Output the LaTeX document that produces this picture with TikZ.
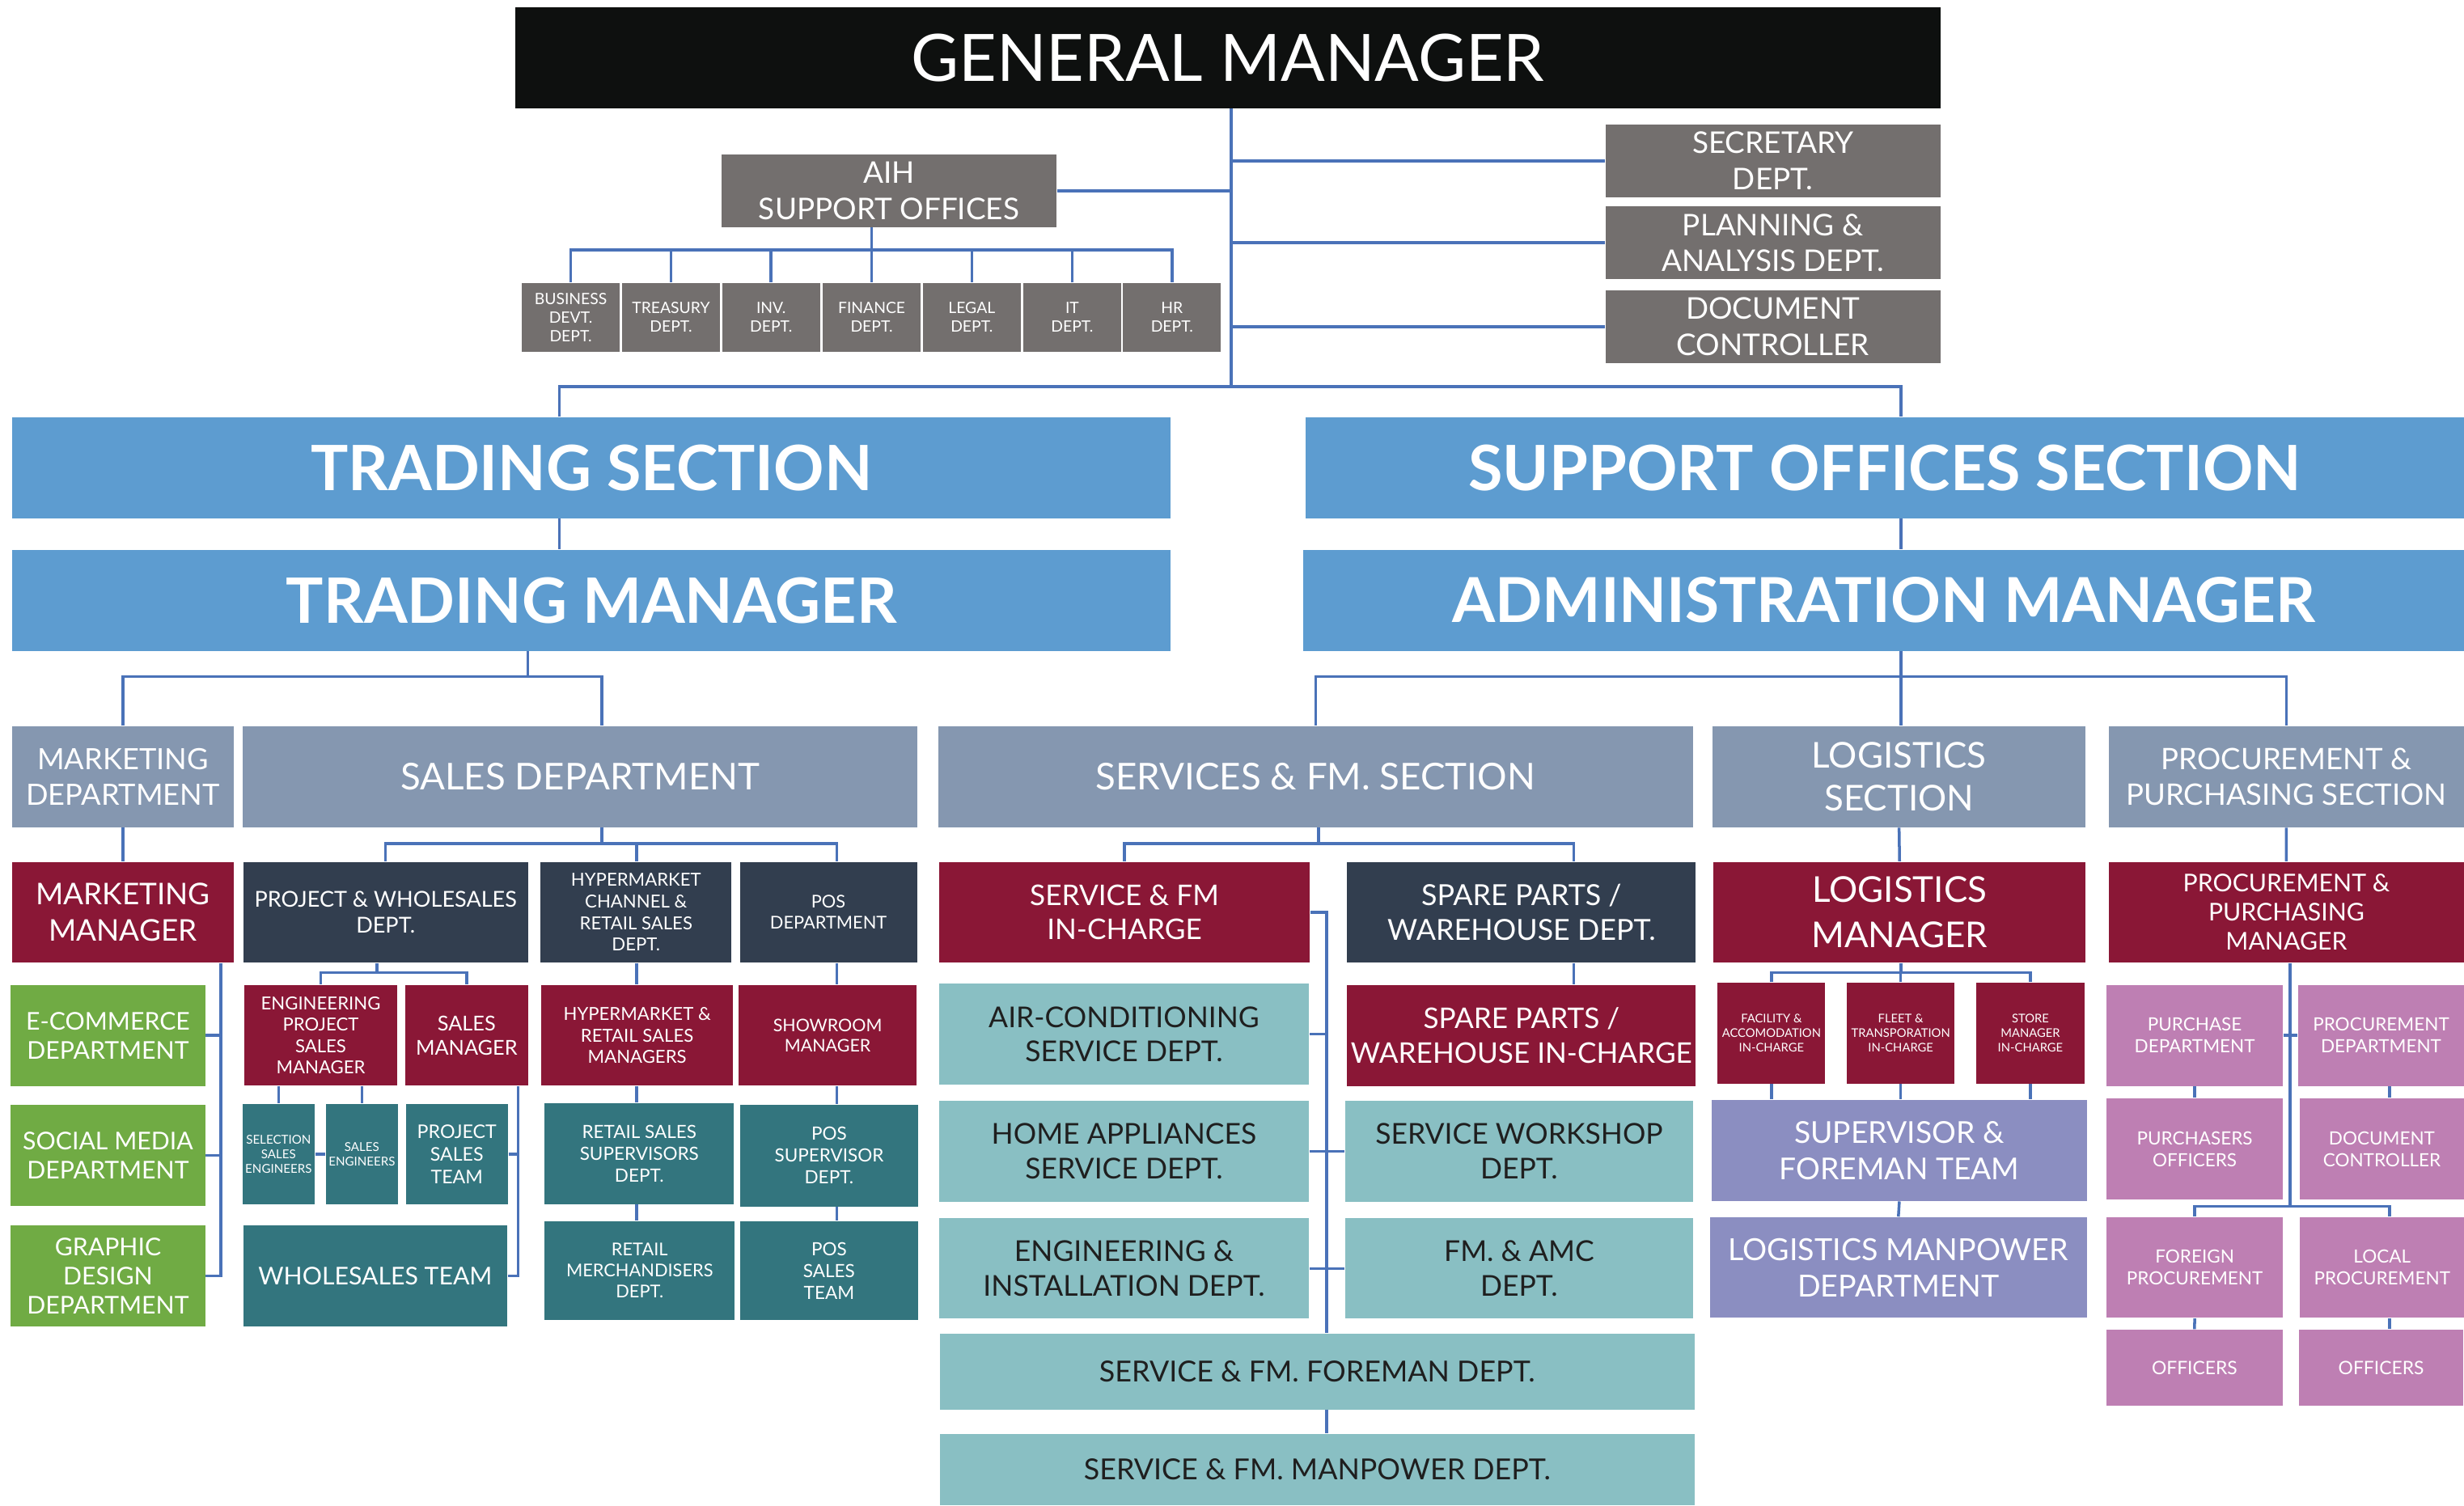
\documentclass[tikz,border=0pt]{standalone}
\usepackage{fontspec}
\setmainfont{Lato}
\usepackage{tikz}
\usepackage{xcolor}

\newcommand{\pxu}{0.019426cm}
\newcommand{\sz}[1]{\fontsize{#1}{\fpeval{1.2*#1}}\selectfont}

\definecolor{gmblack}{HTML}{0E100F}
\definecolor{aihgrey}{HTML}{736F6E}
\definecolor{secblue}{HTML}{5D9CD0}
\definecolor{slate}{HTML}{8597B0}
\definecolor{navy}{HTML}{323E4F}
\definecolor{maroon}{HTML}{8A1736}
\definecolor{deepteal}{HTML}{33757E}
\definecolor{paleteal}{HTML}{89BFC3}
\definecolor{mktgreen}{HTML}{70AB44}
\definecolor{lavender}{HTML}{8B8EC1}
\definecolor{mauve}{HTML}{BE7FB3}
\definecolor{linkblue}{HTML}{4A72B8}
\definecolor{darktext}{HTML}{1F1F1F}

\tikzset{
  orgbox/.style={rectangle, inner sep=1pt, align=center, text=white},
  wh/.style 2 args={minimum width=#1*\pxu, minimum height=#2*\pxu},
  fs/.style={font=\sz{#1}},
  bigfs/.style={font=\sz{#1}\bfseries},
  gmbox/.style={orgbox, fill=gmblack},
  greybox/.style={orgbox, fill=aihgrey},
  secbox/.style={orgbox, fill=secblue},
  deptbox/.style={orgbox, fill=slate},
  navybox/.style={orgbox, fill=navy},
  mgrbox/.style={orgbox, fill=maroon},
  tealbox/.style={orgbox, fill=deepteal},
  palebox/.style={orgbox, fill=paleteal, text=darktext},
  greenbox/.style={orgbox, fill=mktgreen},
  lavbox/.style={orgbox, fill=lavender},
  pinkbox/.style={orgbox, fill=mauve},
  link/.style={draw=linkblue, line width=1pt}
}

\begin{document}
\begin{tikzpicture}[x=\pxu, y=-\pxu]
    \useasboundingbox (0,0) rectangle (1568,958);

    % Top level
    \node[gmbox, wh={906.9}{64.2}, fs=23] (gm) at (781.25,36.7) {GENERAL MANAGER};
    \node[greybox, wh={213.1}{46.2}, fs=10.5] (aih) at (565.75,121.4) {AIH\\SUPPORT OFFICES};
    \node[greybox, wh={213}{46.1}, fs=10.5] (sec) at (1128.2,102.35) {SECRETARY\\DEPT.};
    \node[greybox, wh={213}{46.1}, fs=10.5] (pla) at (1128.2,154.4) {PLANNING \&\\ANALYSIS DEPT.};
    \node[greybox, wh={213}{46.1}, fs=10.5] (doc) at (1128.2,207.9) {DOCUMENT\\CONTROLLER};

    % AIH support offices
    \node[greybox, wh={62.3}{43.6}, fs=5.5] (bus) at (363.2,202) {BUSINESS\\DEVT.\\DEPT.};
    \node[greybox, wh={62.3}{43.6}, fs=5.5] (tre) at (427.0,202) {TREASURY\\DEPT.};
    \node[greybox, wh={62.3}{43.6}, fs=5.5] (inv) at (490.7,202) {INV.\\DEPT.};
    \node[greybox, wh={62.3}{43.6}, fs=5.5] (fin) at (554.7,202) {FINANCE\\DEPT.};
    \node[greybox, wh={62.3}{43.6}, fs=5.5] (leg) at (618.4,202) {LEGAL\\DEPT.};
    \node[greybox, wh={62.3}{43.6}, fs=5.5] (it) at (682.3,202) {IT\\DEPT.};
    \node[greybox, wh={62.3}{43.6}, fs=5.5] (hr) at (745.8,202) {HR\\DEPT.};

    % Sections
    \node[secbox, wh={737.1}{64.2}, bigfs=22] (trs) at (376.45,297.7) {TRADING SECTION};
    \node[secbox, wh={737.1}{64.2}, bigfs=22] (tm) at (376.45,382.1) {TRADING MANAGER};
    \node[secbox, wh={737}{64.2}, bigfs=22] (sos) at (1199.5,297.7) {SUPPORT OFFICES SECTION};
    \node[secbox, wh={738.6}{64.2}, bigfs=21.8] (am) at (1198.7,382.1) {ADMINISTRATION MANAGER};

    % Departments
    \node[deptbox, wh={141.2}{64.1}, fs=10.3] (mkd) at (78.2,494.35) {MARKETING\\DEPARTMENT};
    \node[deptbox, wh={429.6}{64.1}, fs=13] (sd) at (369.2,494.35) {SALES DEPARTMENT};
    \node[deptbox, wh={480.3}{64.1}, fs=13] (sfs) at (837.15,494.35) {SERVICES \& FM. SECTION};
    \node[deptbox, wh={237}{64.1}, fs=12.5] (ls) at (1208.5,494.35) {LOGISTICS\\SECTION};
    \node[deptbox, wh={226.2}{64.1}, fs=10.4] (pps) at (1454.9,494.35) {PROCUREMENT \&\\PURCHASING SECTION};

    % Managers row
    \node[mgrbox, wh={141.2}{64.2}, fs=10.5] (mkm) at (78.2,580.6) {MARKETING\\MANAGER};
    \node[navybox, wh={181.2}{64.2}, fs=7.7] (pw) at (245.4,580.6) {PROJECT \& WHOLESALES\\DEPT.};
    \node[navybox, wh={121.5}{64.2}, fs=6.3] (hc) at (404.75,580.6) {HYPERMARKET\\CHANNEL \&\\RETAIL SALES\\DEPT.};
    \node[navybox, wh={112.7}{64.2}, fs=6.2] (posd) at (527.15,580.6) {POS\\DEPARTMENT};
    \node[mgrbox, wh={236.1}{64.2}, fs=10] (sfic) at (715.55,580.6) {SERVICE \& FM\\IN-CHARGE};
    \node[navybox, wh={222}{64.2}, fs=10.2] (spd) at (968.2,580.6) {SPARE PARTS /\\WAREHOUSE DEPT.};
    \node[mgrbox, wh={237}{64.2}, font={\fontsize{12.5}{16}\selectfont}] (lm) at (1208.8,580.6) {LOGISTICS\\MANAGER};
    \node[mgrbox, wh={226.1}{64.2}, fs=8.6] (ppm) at (1454.95,580.6) {PROCUREMENT \&\\PURCHASING\\MANAGER};

    % Second row
    \node[greenbox, wh={123.8}{64.2}, fs=8.6] (ec) at (68.7,659) {E-COMMERCE\\DEPARTMENT};
    \node[mgrbox, wh={97}{64}, fs=6.3] (epsm) at (204.1,659) {ENGINEERING\\PROJECT\\SALES\\MANAGER};
    \node[mgrbox, wh={78.1}{64}, fs=7.2] (smg) at (296.95,659) {SALES\\MANAGER};
    \node[mgrbox, wh={122.3}{64}, fs=6.3] (hrsm) at (405.45,659) {HYPERMARKET \&\\RETAIL SALES\\MANAGERS};
    \node[mgrbox, wh={113.3}{64}, fs=6.1] (show) at (526.65,659) {SHOWROOM\\MANAGER};
    \node[palebox, wh={235.5}{64}, fs=10.1] (ac) at (715.25,658.2) {AIR-CONDITIONING\\SERVICE DEPT.};
    \node[mgrbox, wh={222}{64.2}, fs=10] (spic) at (968.2,659) {SPARE PARTS /\\WAREHOUSE IN-CHARGE};
    \node[mgrbox, wh={68.4}{64.2}, fs=4.2] (fac) at (1127.3,657.5) {FACILITY \&\\ACCOMODATION\\IN-CHARGE};
    \node[mgrbox, wh={68.3}{64.2}, fs=4.2] (fle) at (1209.55,657.5) {FLEET \&\\TRANSPORATION\\IN-CHARGE};
    \node[mgrbox, wh={68.7}{64.2}, fs=4.2] (sto) at (1292.05,657.5) {STORE\\MANAGER\\IN-CHARGE};
    \node[pinkbox, wh={112.4}{64.2}, fs=6.4] (pud) at (1396.6,659) {PURCHASE\\DEPARTMENT};
    \node[pinkbox, wh={105.6}{64.2}, fs=6.4] (prd) at (1515.2,659) {PROCUREMENT\\DEPARTMENT};

    % Third row
    \node[greenbox, wh={123.8}{64.2}, fs=8.6] (smd) at (68.7,735.3) {SOCIAL MEDIA\\DEPARTMENT};
    \node[tealbox, wh={44.9}{64}, fs=4.3] (sse) at (177.25,734.7) {SELECTION\\SALES\\ENGINEERS};
    \node[tealbox, wh={44.6}{64}, fs=4.3] (se) at (230.3,734.7) {SALES\\ENGINEERS};
    \node[tealbox, wh={65}{64}, fs=6.6] (pst) at (290.7,734.7) {PROJECT\\SALES\\TEAM};
    \node[tealbox, wh={120.4}{64.3}, fs=6.4] (rss) at (406.8,734.15) {RETAIL SALES\\SUPERVISORS\\DEPT.};
    \node[tealbox, wh={113.6}{64.7}, fs=6.4] (poss) at (527.6,735.55) {POS\\SUPERVISOR\\DEPT.};
    \node[palebox, wh={235.5}{64.2}, fs=10.1] (ha) at (715.25,732.7) {HOME APPLIANCES\\SERVICE DEPT.};
    \node[palebox, wh={221.4}{64.2}, fs=10.1] (sw) at (966.7,732.7) {SERVICE WORKSHOP\\DEPT.};
    \node[lavbox, wh={238.5}{64.3}, fs=10.6] (sft) at (1208.65,732.15) {SUPERVISOR \&\\FOREMAN TEAM};
    \node[pinkbox, wh={112.4}{64.2}, fs=6.4] (puo) at (1396.6,731.2) {PURCHASERS\\OFFICERS};
    \node[pinkbox, wh={104.6}{64.2}, fs=6.4] (dcc) at (1515.7,731.2) {DOCUMENT\\CONTROLLER};

    % Fourth row
    \node[greenbox, wh={123.8}{64.3}, fs=8.6] (gd) at (68.7,812.05) {GRAPHIC\\DESIGN\\DEPARTMENT};
    \node[tealbox, wh={168}{64}, fs=8.6] (wt) at (238.8,812) {WHOLESALES TEAM};
    \node[tealbox, wh={120.9}{62.7}, fs=6.2] (rm) at (407.05,808.65) {RETAIL\\MERCHANDISERS\\DEPT.};
    \node[tealbox, wh={113.6}{62.7}, fs=6.4] (post) at (527.6,808.65) {POS\\SALES\\TEAM};
    \node[palebox, wh={235.5}{64}, fs=10.1] (ei) at (715.25,807.3) {ENGINEERING \&\\INSTALLATION DEPT.};
    \node[palebox, wh={221.4}{64}, fs=10.1] (fma) at (966.7,807.3) {FM. \& AMC\\DEPT.};
    \node[lavbox, wh={239.7}{64.1}, fs=10.7] (lmp) at (1208.05,806.75) {LOGISTICS MANPOWER\\DEPARTMENT};
    \node[pinkbox, wh={112.4}{64.1}, fs=6.4] (fpr) at (1396.6,806.75) {FOREIGN\\PROCUREMENT};
    \node[pinkbox, wh={104.3}{64.1}, fs=6.4] (lpr) at (1515.85,806.75) {LOCAL\\PROCUREMENT};

    % Bottom rows
    \node[pinkbox, wh={112}{48.2}, fs=6.5] (ofl) at (1396.5,870.4) {OFFICERS};
    \node[pinkbox, wh={104.5}{48.2}, fs=6.5] (ofr) at (1515.25,870.4) {OFFICERS};
    \node[palebox, wh={480}{48.2}, fs=10.2] (fore) at (838.2,873) {SERVICE \& FM. FOREMAN DEPT.};
    \node[palebox, wh={480}{45.3}, fs=10.2] (manp) at (838.2,935.35) {SERVICE \& FM. MANPOWER DEPT.};

    % Junctions
    \coordinate (spine) at (783.5,246);
    \coordinate (trx) at (356,246);
    \coordinate (sox) at (1209.7,246);
    \coordinate (aihbar) at (554.7,159.1);
    \coordinate (tmbar) at (336,430.7);
    \coordinate (sdx) at (383,430.7);
    \coordinate (ambar) at (1209.7,430.7);
    \coordinate (mkx) at (140.4,0);
    \coordinate (sdbar) at (383,537);
    \coordinate (posx) at (532.4,537);
    \coordinate (hcx) at (405,0);
    \coordinate (pwbar) at (240,619);
    \coordinate (smx) at (329.6,0);
    \coordinate (sfbar) at (839,537);
    \coordinate (spx) at (1001.4,537);
    \coordinate (svx) at (844.1,0);
    \coordinate (lmbar) at (1209.6,619.1);
    \coordinate (ppx) at (1457.4,767.8);
    \coordinate (prx) at (1520.5,767.8);

    % General manager links
    \draw[link] (gm.south -| spine) -- (spine);
    \draw[link] (trx |- trs.north) -- (trx) -- (sox) -- (sox |- sos.north);
    \draw[link] (aih.east) -- (aih.east -| spine);
    \foreach \n in {sec,pla,doc}
        \draw[link] (\n.west) -- (\n.west -| spine);
    \draw[link] (aihbar |- aih.south) -- (aihbar);
    \draw[link] (bus.north) |- (aihbar) -| (hr.north);
    \foreach \n in {tre,inv,fin,leg,it}
        \draw[link] (\n.north) -- (\n.north |- aihbar);

    % Section links
    \draw[link] (trx |- trs.south) -- (trx |- tm.north);
    \draw[link] (sox |- sos.south) -- (sox |- am.north);
    \draw[link] (tmbar |- tm.south) -- (tmbar);
    \draw[link] (mkd.north) |- (tmbar) -- (sdx) -- (sdx |- sd.north);
    \draw[link] (ambar |- am.south) -- (ambar |- ls.north);
    \draw[link] (sfs.north) |- (ambar) -| (pps.north);

    % Marketing
    \draw[link] (mkd.south) -- (mkm.north);
    \draw[link] (mkx |- mkm.south) -- (mkx |- gd.east) -- (gd.east);
    \draw[link] (ec.east) -- (ec.east -| mkx);
    \draw[link] (smd.east) -- (smd.east -| mkx);

    % Sales
    \draw[link] (sdbar |- sd.south) -- (sdbar);
    \draw[link] (pw.north) |- (sdbar) -| (posx |- posd.north);
    \draw[link] (hcx |- hc.north) -- (hcx |- sdbar);
    \draw[link] (pwbar |- pw.south) -- (pwbar);
    \draw[link] (epsm.north) |- (pwbar) -| (smg.north);
    \draw[link] (sse.north |- epsm.south) -- (sse.north);
    \draw[link] (se.north |- epsm.south) -- (se.north);
    \draw[link] (sse.east) -- (se.west);
    \draw[link] (smx |- smg.south) -- (smx |- wt.east) -- (wt.east);
    \draw[link] (pst.east) -- (pst.east -| smx);
    \draw[link] (hcx |- hc.south) -- (hcx |- hrsm.north);
    \draw[link] (hcx |- hrsm.south) -- (hcx |- rss.north);
    \draw[link] (hcx |- rss.south) -- (hcx |- rm.north);
    \draw[link] (posx |- posd.south) -- (posx |- show.north);
    \draw[link] (posx |- show.south) -- (posx |- poss.north);
    \draw[link] (posx |- poss.south) -- (posx |- post.north);

    % Services & FM
    \draw[link] (sfbar |- sfs.south) -- (sfbar);
    \draw[link] (sfic.north) |- (sfbar) -| (spx |- spd.north);
    \draw[link] (spx |- spd.south) -- (spx |- spic.north);
    \draw[link] (sfic.east) -| (svx |- fore.north);
    \draw[link] (svx |- fore.south) -- (svx |- manp.north);
    \draw[link] (ac.east) -- (ac.east -| svx);
    \draw[link] (ha.east) -- (sw.west);
    \draw[link] (ei.east) -- (fma.west);

    % Logistics
    \draw[link] (ls.south) -- (lm.north);
    \draw[link] (lmbar |- lm.south) -- (lmbar);
    \draw[link] (fac.north) |- (lmbar) -| (sto.north);
    \draw[link] (fle.north) -- (fle.north |- lmbar);
    \foreach \n in {fac,fle,sto}
        \draw[link] (\n.south) -- (\n.south |- sft.north);
    \draw[link] (sft.south) -- (lmp.north);

    % Procurement
    \draw[link] (pps.south) -- (ppm.north);
    \draw[link] (ppx |- ppm.south) -- (ppx);
    \draw[link] (pud.east) -- (pud.east -| ppx);
    \draw[link] (prd.west) -- (prd.west -| ppx);
    \draw[link] (fpr.north) |- (ppx) -- (prx) -- (prx |- lpr.north);
    \draw[link] (pud.south) -- (puo.north);
    \draw[link] (prx |- prd.south) -- (prx |- dcc.north);
    \draw[link] (fpr.south) -- (ofl.north);
    \draw[link] (prx |- lpr.south) -- (prx |- ofr.north);
\end{tikzpicture}
\end{document}
